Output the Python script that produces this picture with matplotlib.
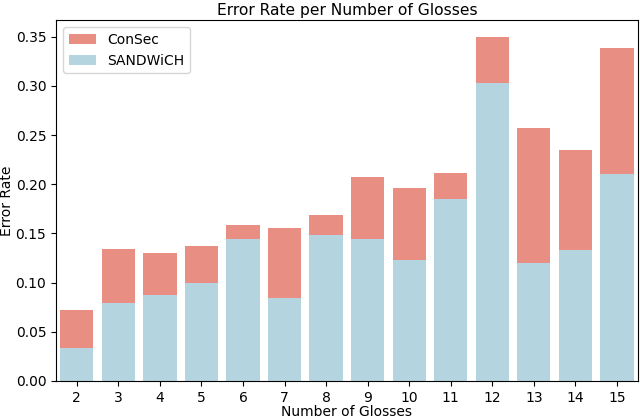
import matplotlib
matplotlib.use("Agg")
import matplotlib.pyplot as plt
import seaborn as sns

# values
glosses = [2, 3, 4, 5, 6, 7, 8, 9, 10, 11, 12, 13, 14, 15]
consec = [0.0717, 0.1346, 0.1299, 0.1370, 0.1590, 0.1556, 0.1690,
          0.2070, 0.1958, 0.2114, 0.3494, 0.2567, 0.2348, 0.3389]
sandwich = [0.0335, 0.0788, 0.0876, 0.0994, 0.1445, 0.0839, 0.1480,
            0.1445, 0.1228, 0.1854, 0.3034, 0.1194, 0.1329, 0.2104]

fig = plt.figure(figsize=(6.4, 4.19), dpi=100)
ax = fig.add_axes([0.0875, 0.091, 0.909, 0.861])

# ConSec behind, SANDWiCH in front
sns.barplot(x=glosses, y=consec, color='salmon', label='ConSec', ax=ax)
sns.barplot(x=glosses, y=sandwich, color='lightblue', label='SANDWiCH', ax=ax)

ax.set_title('Error Rate per Number of Glosses', fontsize=11.2, pad=4)
ax.set_xlabel('Number of Glosses', labelpad=0)
ax.set_ylabel('Error Rate', labelpad=1)
ax.legend(loc='upper left')

fig.savefig('out.png', dpi=100)
